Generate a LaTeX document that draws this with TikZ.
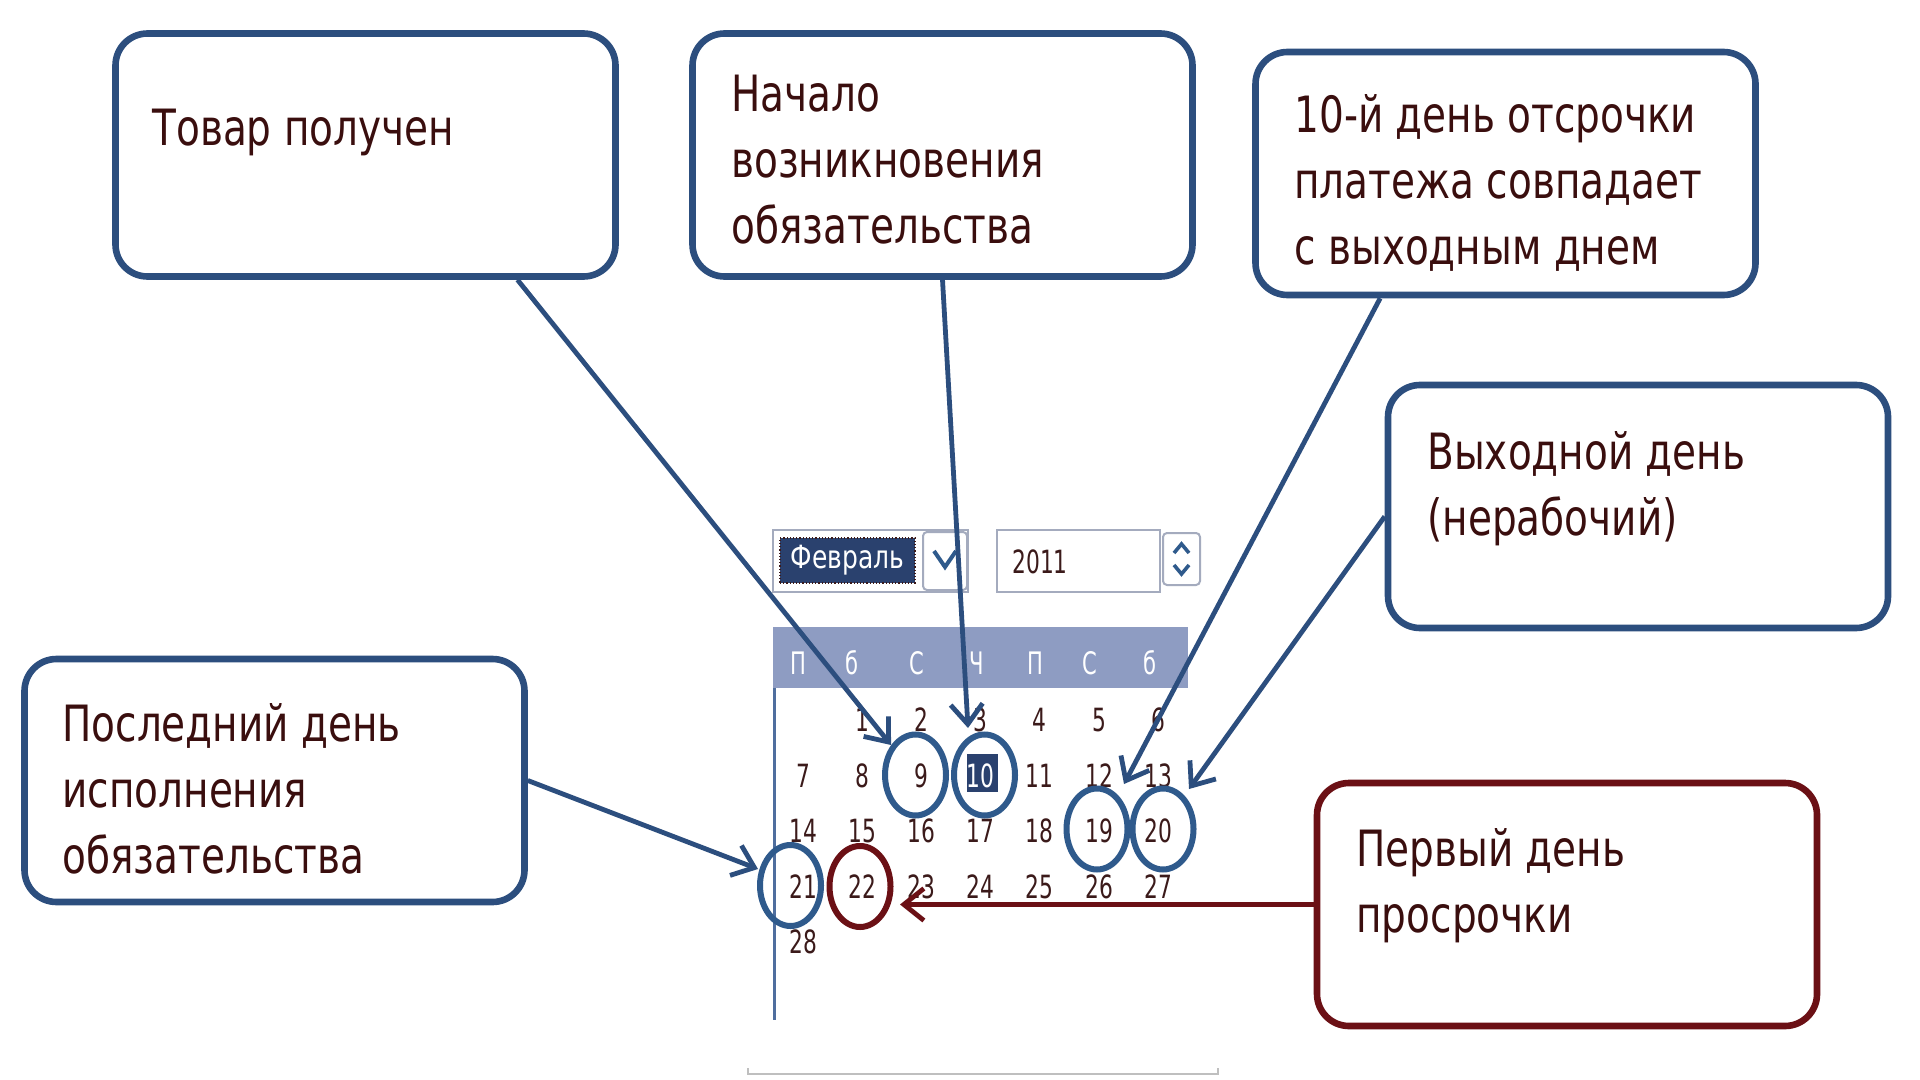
\documentclass[tikz,border=0pt]{standalone}
\usepackage{fontspec}
\setmainfont{DejaVu Sans}[FakeStretch=0.78]
\newfontfamily\numfont{DejaVu Sans}[FakeStretch=0.68]
\usetikzlibrary{arrows.meta,shapes.geometric,calc}
\definecolor{boxblue}{HTML}{2C4E7E}
\definecolor{ringblue}{HTML}{2F5A8C}
\definecolor{maroon}{HTML}{6B1015}
\definecolor{textdark}{HTML}{3A0E0E}
\definecolor{numdark}{HTML}{3B1A1A}
\definecolor{hdrfill}{HTML}{8E9CC2}
\definecolor{navy}{HTML}{2A416E}
\definecolor{widgetgray}{HTML}{A4ABBE}
\definecolor{calline}{HTML}{4F6E9E}
\begin{document}
\begin{tikzpicture}[x=0.5pt,y=-0.5pt,
  box/.style={draw=boxblue, line width=3.3pt, rounded corners=16pt, fill=white,
    minimum width=250pt, minimum height=121.5pt, inner sep=0pt},
  boxred/.style={box, draw=maroon},
  boxtext/.style={anchor=north west, inner sep=0pt, align=left, text=textdark,
    font=\fontsize{25pt}{33pt}\selectfont},
  num/.style={inner sep=0pt, font=\numfont\fontsize{16pt}{17pt}\selectfont},
  hdr/.style={inner sep=0pt, text=white, font=\numfont\fontsize{15.5pt}{16pt}\selectfont},
  ring/.style={ellipse, draw=ringblue, line width=3pt, minimum width=30.5pt,
    minimum height=40.5pt, inner sep=0pt},
  widget/.style={draw=widgetgray, line width=1pt, fill=white, inner sep=0pt},
  arr/.style={draw=boxblue, line width=2.4pt, -{Straight Barb[length=10pt,width=16pt]}},
  arrred/.style={arr, draw=maroon}
]
\path[use as bounding box, fill=white] (0,0) rectangle (1920,1080);

% ---- calendar widgets ----
\node[widget, minimum width=97.5pt, minimum height=31pt] (ddbox) at (870.5,561) {};
\node[fill=navy, draw=numdark, densely dotted, line width=0.6pt, minimum width=67.5pt,
  minimum height=22.5pt, inner sep=0pt, text=white,
  font=\fontsize{16pt}{17pt}\selectfont] (month) at (847.5,560.5) {Февраль};
\node[widget, rounded corners=2pt, minimum width=22pt, minimum height=29pt] (ddbtn) at (945,561) {};
\draw[ringblue, line width=2pt] (934,551) -- (945,567) -- (956,551);
\node[widget, minimum width=81.5pt, minimum height=31pt] (yearbox) at (1078.5,561) {};
\node[num, text=numdark, font=\numfont\fontsize{16pt}{17pt}\selectfont, anchor=west] (year) at (1012,562) {2011};
\node[widget, rounded corners=2pt, minimum width=18.5pt, minimum height=26pt] (spin) at (1181.5,559) {};
\draw[ringblue, line width=1.8pt] (1174,553) -- (1181.5,544) -- (1189,553);
\draw[ringblue, line width=1.8pt] (1174,565) -- (1181.5,574) -- (1189,565);

% header bar
\fill[hdrfill] (773,627) rectangle (1188,688);
\foreach \lab/\hx [count=\i] in {П/798,б/852,С/917,Ч/977,П/1035,С/1090,б/1150}{
  \node[hdr] (h\i) at (\hx,663) {\lab};
}
% frame lines
\draw[calline, line width=1.5pt] (774,688) -- (774,1020);
\draw[black!25, line width=0.8pt] (748,1068) -- (748,1074) -- (1218,1074) -- (1218,1068);

% day 10 highlight
\node[fill=navy, minimum width=15.5pt, minimum height=19pt, inner sep=0pt] (sq10) at (982,773) {};

% numbers
\foreach \d in {1,...,28}{
  \pgfmathtruncatemacro{\cc}{mod(\d,7)}
  \pgfmathtruncatemacro{\rr}{floor(\d/7)}
  \ifnum\d=10 \def\tc{white}\else\def\tc{numdark}\fi
  \node[num, text=\tc] (d\d) at ({803+59.2*\cc},{720+55.5*\rr}) {\d};
}

% rings
\node[ring] (c9) at (915.5,775) {};
\node[ring] (c10) at (984.5,775) {};
\node[ring] (c19) at (1097,829) {};
\node[ring] (c20) at (1163,829) {};
\node[ring] (c21) at (790.5,885.5) {};
\node[ring, draw=maroon] (c22) at (860,886.5) {};

% ---- callout boxes ----
\node[box] (b1) at (365.5,155) {};
\node[box] (b2) at (942.5,155) {};
\node[box] (b3) at (1505.5,173.5) {};
\node[box] (b4) at (1638,506.5) {};
\node[box] (b5) at (274.5,780.5) {};
\node[boxred] (b6) at (1567,904.5) {};

\node[boxtext] (t1) at (152,109) {Товар получен};
\node[boxtext] (t2) at (731,75) {Начало\\возникновения\\обязательства};
\node[boxtext] (t3) at (1294,94) {10-й день отсрочки\\платежа совпадает\\с выходным днем};
\node[boxtext] (t4) at (1427,431) {Выходной день\\(нерабочий)};
\node[boxtext] (t5) at (62,703) {Последний день\\исполнения\\обязательства};
\node[boxtext] (t6) at (1356,828) {Первый день\\просрочки};

% ---- arrow end points ----
\coordinate (e1) at (891,745);
\coordinate (e2) at (968,728);
\coordinate (e3) at (1124,784);
\coordinate (e4) at (1189,789);
\coordinate (e5) at (758,869);
\coordinate (e6) at (900,904.5);

\draw[arr] ($(b1.south west)!0.8!(b1.south east)$) -- (e1);
\draw[arr] (b2.south) -- (e2);
\draw[arr] ($(b3.south west)!0.2525!(b3.south east)$) -- (e3);
\draw[arr] ($(b4.north west)!0.54!(b4.south west)$) -- (e4);
\draw[arr] (b5.east) -- (e5);
\draw[arrred] (b6.west) -- (e6);
\end{tikzpicture}
\end{document}
